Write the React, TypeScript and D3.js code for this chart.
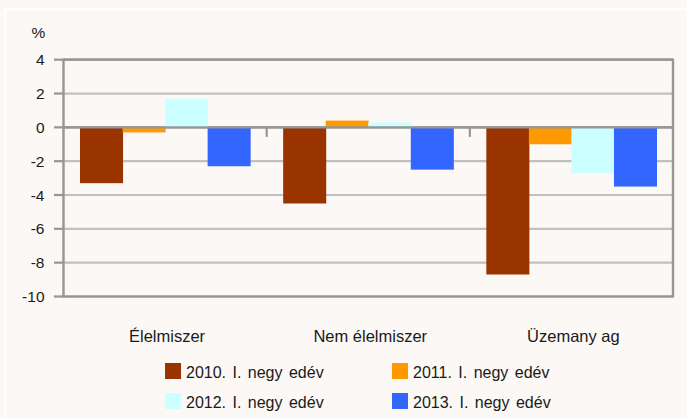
import React from "react";
import * as d3 from "d3";

const categories = ["Élelmiszer", "Nem élelmiszer", "Üzemany ag"];
const seriesNames = [
  "2010. I. negy edév",
  "2011. I. negy edév",
  "2012. I. negy edév",
  "2013. I. negy edév",
];
const s2010 = [-3.3, -4.5, -8.7];
const s2011 = [-0.3, 0.4, -1.0];
const s2012 = [1.7, 0.3, -2.7];
const s2013 = [-2.3, -2.5, -3.5];
const yTicks = [4, 2, 0, -2, -4, -6, -8, -10];
const colors = ["#993300", "#FF9900", "#CCFFFF", "#3366FF"];

const seriesValues = [s2010, s2011, s2012, s2013];

export default function App() {
  const W = 687;
  const H = 418;
  const left = 63.5;
  const right = 673;
  const top = 59.7;
  const bottom = 296.5;
  const font = "'Liberation Sans', Arial, sans-serif";
  const axisGray = "#969696";
  const gridGray = "#C0C0C0";
  const textColor = "#1a1a1a";

  const y = d3.scaleLinear().domain([-10, 4]).range([bottom, top]);
  const x0 = d3.scaleBand<string>().domain(categories).range([left, right]).padding(0);
  const bw = x0.bandwidth();
  const x1 = d3
    .scaleBand<string>()
    .domain(seriesNames)
    .range([16.5, bw - 16.5])
    .padding(0);

  const legendPos = [
    { x: 165, y: 363 },
    { x: 392, y: 363 },
    { x: 165, y: 393 },
    { x: 392, y: 393 },
  ];

  return (
    <svg
      width={W}
      height={H}
      style={{ position: "absolute", left: 0, top: 0, display: "block" }}
      fontFamily={font}
    >
      <rect x={0} y={0} width={W} height={H} fill="#FBF8F5" />
      <rect x={5} y={9} width={W + 10} height={H + 10} fill="#FBF8F5" stroke="#FFFFFF" strokeWidth={2} />

      {/* gridlines */}
      {yTicks.map((t) => (
        <line
          key={"g" + t}
          x1={left}
          x2={right}
          y1={y(t)}
          y2={y(t)}
          stroke={t === 4 || t === 0 || t === -10 ? axisGray : gridGray}
          strokeWidth={2.2}
        />
      ))}

      {/* bars */}
      {categories.map((c, ci) => (
        <g key={c} transform={`translate(${x0(c)},0)`}>
          {seriesNames.map((s, si) => {
            const v = seriesValues[si][ci];
            const y0 = y(0);
            const yv = y(v);
            return (
              <rect
                key={s}
                x={x1(s)!}
                y={Math.min(y0, yv)}
                width={x1.bandwidth() + 0.5}
                height={Math.abs(yv - y0)}
                fill={colors[si]}
              />
            );
          })}
        </g>
      ))}

      {/* zero line on top */}
      <line x1={left} x2={right} y1={y(0)} y2={y(0)} stroke={axisGray} strokeWidth={2.2} />
      <line x1={left} x2={right} y1={y(-10)} y2={y(-10)} stroke={axisGray} strokeWidth={2.2} />
      <line x1={left} x2={right} y1={y(4)} y2={y(4)} stroke={axisGray} strokeWidth={2.2} />

      {/* category separator ticks */}
      {categories.slice(1).map((c) => (
        <line
          key={"sep" + c}
          x1={x0(c)!}
          x2={x0(c)!}
          y1={y(0)}
          y2={y(0) + 9.5}
          stroke={axisGray}
          strokeWidth={2.2}
        />
      ))}

      {/* left axis and right border */}
      <line x1={left} x2={left} y1={top - 1} y2={bottom + 1} stroke={axisGray} strokeWidth={2.4} />
      <line x1={right} x2={right} y1={top - 1} y2={bottom + 1} stroke={axisGray} strokeWidth={2.4} />

      {/* y ticks */}
      {yTicks.map((t) => (
        <g key={"t" + t}>
          <line x1={left - 9.5} x2={left} y1={y(t)} y2={y(t)} stroke={axisGray} strokeWidth={2.2} />
          <text
            x={44.5}
            y={y(t) + 5.5}
            textAnchor="end"
            fontSize={15.5}
            fill={textColor}
          >
            {t}
          </text>
        </g>
      ))}
      <text x={31.5} y={37.5} fontSize={15.5} fill={textColor}>
        %
      </text>

      {/* category labels */}
      {categories.map((c) => (
        <text
          key={"cl" + c}
          x={x0(c)! + bw / 2 + 2}
          y={342}
          textAnchor="middle"
          fontSize={16.5}
          fill={textColor}
        >
          {c}
        </text>
      ))}

      {/* legend */}
      {seriesNames.map((s, i) => (
        <g key={"lg" + s} transform={`translate(${legendPos[i].x},${legendPos[i].y})`}>
          <rect x={0} y={0} width={16} height={16} fill={colors[i]} />
          <text x={21} y={14.5} fontSize={16} fill={textColor} wordSpacing={2}>
            {s}
          </text>
        </g>
      ))}
    </svg>
  );
}
